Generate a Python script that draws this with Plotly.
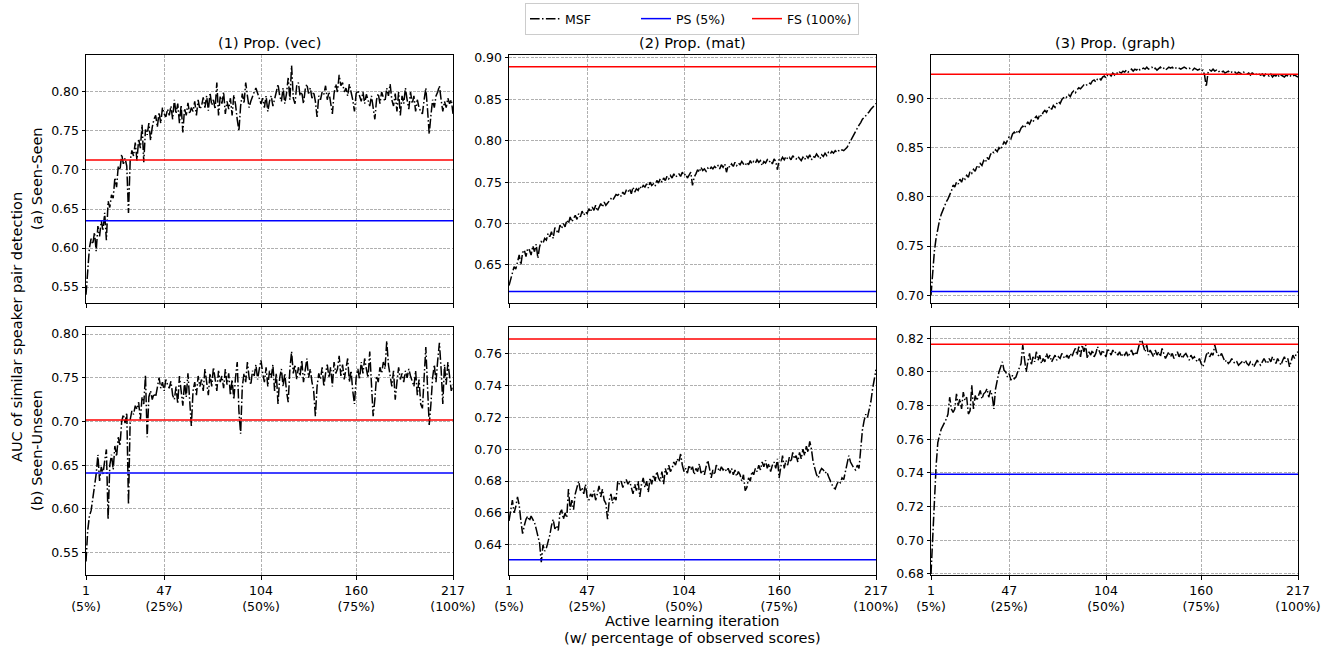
import plotly.graph_objects as go

# Active learning iterations (1 .. 217)
tick_vals = [1, 47, 104, 160, 217]
tick_text = ["1<br>(5%)", "47<br>(25%)", "104<br>(50%)", "160<br>(75%)", "217<br>(100%)"]

col_titles = ["(1) Prop. (vec)", "(2) Prop. (mat)", "(3) Prop. (graph)"]
row_titles = ["(a) Seen-Seen", "(b) Seen-Unseen"]

# MSF curves, one value per iteration
msf_vec_ss = [
    0.540, 0.565, 0.600, 0.612, 0.605, 0.620, 0.596, 0.628, 0.615, 0.635,
    0.622, 0.645, 0.610, 0.660, 0.652, 0.668, 0.664, 0.690, 0.678, 0.705,
    0.700, 0.720, 0.708, 0.715, 0.705, 0.645, 0.712, 0.725, 0.718, 0.735,
    0.712, 0.740, 0.728, 0.758, 0.710, 0.752, 0.745, 0.760, 0.738, 0.755,
    0.765, 0.770, 0.755, 0.774, 0.760, 0.780, 0.772, 0.768, 0.778, 0.770,
    0.782, 0.765, 0.790, 0.772, 0.785, 0.760, 0.783, 0.748, 0.779, 0.770,
    0.786, 0.772, 0.780, 0.775, 0.788, 0.770, 0.790, 0.778, 0.782, 0.793,
    0.780, 0.795, 0.776, 0.799, 0.783, 0.790, 0.778, 0.812, 0.770, 0.795,
    0.785, 0.800, 0.772, 0.788, 0.778, 0.792, 0.770, 0.796, 0.784, 0.765,
    0.750, 0.782, 0.798, 0.785, 0.812, 0.795, 0.780, 0.788, 0.795, 0.800,
    0.805, 0.798, 0.790, 0.785, 0.792, 0.780, 0.795, 0.775, 0.788, 0.795,
    0.782, 0.790, 0.800, 0.810, 0.795, 0.788, 0.805, 0.785, 0.798, 0.818,
    0.790, 0.834, 0.792, 0.785, 0.808, 0.812, 0.795, 0.800, 0.785, 0.803,
    0.810, 0.798, 0.805, 0.792, 0.800, 0.788, 0.768, 0.795, 0.790, 0.800,
    0.797, 0.808, 0.790, 0.800, 0.785, 0.772, 0.798, 0.810, 0.800, 0.822,
    0.808, 0.812, 0.800, 0.805, 0.795, 0.810, 0.800, 0.790, 0.775, 0.798,
    0.802, 0.795, 0.788, 0.800, 0.785, 0.797, 0.790, 0.782, 0.795, 0.780,
    0.765, 0.790, 0.798, 0.785, 0.800, 0.793, 0.788, 0.805, 0.795, 0.810,
    0.790, 0.782, 0.798, 0.775, 0.800, 0.770, 0.795, 0.785, 0.805, 0.790,
    0.778, 0.800, 0.785, 0.795, 0.775, 0.790, 0.780, 0.775, 0.772, 0.790,
    0.805, 0.778, 0.746, 0.770, 0.790, 0.780, 0.795, 0.800, 0.808, 0.790,
    0.775, 0.788, 0.780, 0.792, 0.785, 0.790, 0.772,
]

msf_mat_ss = [
    0.625, 0.632, 0.640, 0.648, 0.645, 0.655, 0.662, 0.650, 0.665, 0.668,
    0.660, 0.670, 0.668, 0.662, 0.673, 0.666, 0.675, 0.658, 0.672, 0.678,
    0.676, 0.682, 0.680, 0.688, 0.684, 0.690, 0.682, 0.695, 0.692, 0.688,
    0.698, 0.694, 0.700, 0.696, 0.704, 0.700, 0.708, 0.702, 0.706, 0.710,
    0.705, 0.712, 0.708, 0.715, 0.710, 0.714, 0.712, 0.718, 0.714, 0.720,
    0.716, 0.722, 0.715, 0.719, 0.724, 0.720, 0.726, 0.722, 0.725, 0.728,
    0.730, 0.728, 0.732, 0.735, 0.734, 0.736, 0.733, 0.738, 0.735, 0.740,
    0.738, 0.742, 0.736, 0.744, 0.738, 0.742, 0.740, 0.745, 0.742, 0.746,
    0.744, 0.748, 0.743, 0.750, 0.746, 0.748, 0.745, 0.752, 0.749, 0.754,
    0.750, 0.755, 0.752, 0.757, 0.754, 0.758, 0.755, 0.760, 0.756, 0.758,
    0.760, 0.757, 0.762, 0.758, 0.760, 0.755, 0.758, 0.762, 0.746, 0.756,
    0.760, 0.765, 0.762, 0.768, 0.764, 0.766, 0.763, 0.767, 0.765, 0.768,
    0.766, 0.769, 0.767, 0.770, 0.766, 0.771, 0.768, 0.772, 0.762, 0.770,
    0.768, 0.772, 0.769, 0.774, 0.770, 0.773, 0.771, 0.775, 0.772, 0.770,
    0.774, 0.771, 0.776, 0.772, 0.775, 0.773, 0.777, 0.774, 0.776, 0.770,
    0.775, 0.773, 0.777, 0.774, 0.776, 0.772, 0.778, 0.775, 0.765, 0.778,
    0.776, 0.780, 0.777, 0.781, 0.778, 0.780, 0.777, 0.782, 0.779, 0.778,
    0.781, 0.778, 0.776, 0.780, 0.777, 0.782, 0.779, 0.783, 0.777, 0.781,
    0.780, 0.784, 0.781, 0.778, 0.783, 0.781, 0.785, 0.782, 0.786, 0.784,
    0.787, 0.785, 0.788, 0.786, 0.788, 0.787, 0.789, 0.788, 0.790, 0.792,
    0.796, 0.800, 0.804, 0.808, 0.812, 0.816, 0.819, 0.822, 0.826, 0.828,
    0.830, 0.833, 0.835, 0.838, 0.840, 0.842, 0.845,
]

msf_graph_ss = [
    0.700, 0.725, 0.745, 0.758, 0.768, 0.776, 0.782, 0.787, 0.791, 0.795,
    0.798, 0.802, 0.806, 0.812, 0.810, 0.815, 0.813, 0.818, 0.815, 0.820,
    0.818, 0.822, 0.820, 0.826, 0.824, 0.828, 0.826, 0.831, 0.829, 0.834,
    0.832, 0.837, 0.835, 0.840, 0.838, 0.843, 0.846, 0.845, 0.848, 0.846,
    0.850, 0.848, 0.853, 0.856, 0.854, 0.858, 0.861, 0.859, 0.864, 0.866,
    0.864, 0.868, 0.866, 0.870, 0.872, 0.870, 0.874, 0.876, 0.874, 0.878,
    0.876, 0.880, 0.882, 0.879, 0.884, 0.882, 0.886, 0.888, 0.886, 0.890,
    0.892, 0.889, 0.893, 0.891, 0.895, 0.897, 0.895, 0.899, 0.901, 0.900,
    0.902, 0.904, 0.902, 0.906, 0.908, 0.906, 0.909, 0.911, 0.910, 0.912,
    0.914, 0.913, 0.915, 0.916, 0.915, 0.918, 0.919, 0.917, 0.920, 0.921,
    0.919, 0.922, 0.923, 0.921, 0.924, 0.925, 0.923, 0.926, 0.924, 0.927,
    0.925, 0.927, 0.926, 0.928, 0.927, 0.929, 0.927, 0.929, 0.930, 0.928,
    0.930, 0.929, 0.931, 0.929, 0.930, 0.931, 0.930, 0.932, 0.930, 0.931,
    0.932, 0.930, 0.931, 0.929, 0.931, 0.932, 0.930, 0.931, 0.929, 0.931,
    0.932, 0.931, 0.932, 0.930, 0.931, 0.932, 0.931, 0.930, 0.931, 0.932,
    0.931, 0.930, 0.931, 0.930, 0.929, 0.931, 0.930, 0.929, 0.930, 0.928,
    0.929, 0.924, 0.912, 0.926, 0.929, 0.928, 0.930, 0.928, 0.929, 0.927,
    0.928, 0.927, 0.928, 0.926, 0.927, 0.928, 0.926, 0.927, 0.926, 0.927,
    0.925, 0.927, 0.926, 0.925, 0.927, 0.926, 0.925, 0.926, 0.924, 0.926,
    0.925, 0.924, 0.926, 0.925, 0.924, 0.925, 0.923, 0.925, 0.924, 0.923,
    0.925, 0.922, 0.924, 0.923, 0.925, 0.922, 0.924, 0.923, 0.922, 0.924,
    0.923, 0.922, 0.924, 0.923, 0.924, 0.923, 0.922,
]

msf_vec_su = [
    0.540, 0.575, 0.592, 0.598, 0.612, 0.625, 0.640, 0.662, 0.632, 0.648,
    0.640, 0.655, 0.668, 0.588, 0.650, 0.662, 0.645, 0.672, 0.660, 0.682,
    0.672, 0.700, 0.708, 0.698, 0.710, 0.605, 0.702, 0.712, 0.708, 0.718,
    0.714, 0.722, 0.702, 0.728, 0.720, 0.753, 0.682, 0.728, 0.735, 0.725,
    0.732, 0.728, 0.740, 0.750, 0.738, 0.745, 0.735, 0.748, 0.742, 0.738,
    0.746, 0.730, 0.725, 0.740, 0.720, 0.752, 0.735, 0.718, 0.745, 0.728,
    0.755, 0.720, 0.695, 0.735, 0.745, 0.730, 0.752, 0.740, 0.748, 0.735,
    0.760, 0.745, 0.730, 0.755, 0.740, 0.762, 0.748, 0.735, 0.758, 0.745,
    0.752, 0.738, 0.760, 0.742, 0.755, 0.730, 0.748, 0.725, 0.750, 0.768,
    0.712, 0.686, 0.740, 0.755, 0.745, 0.768, 0.750, 0.742, 0.758, 0.752,
    0.765, 0.748, 0.760, 0.770, 0.755, 0.745, 0.762, 0.740, 0.758, 0.750,
    0.765, 0.735, 0.755, 0.720, 0.750, 0.760, 0.740, 0.755, 0.735, 0.722,
    0.760, 0.780, 0.755, 0.765, 0.748, 0.762, 0.752, 0.770, 0.745, 0.758,
    0.772, 0.750, 0.760, 0.745, 0.735, 0.706, 0.740, 0.755, 0.748, 0.762,
    0.740, 0.755, 0.765, 0.750, 0.762, 0.740, 0.768, 0.755, 0.760, 0.775,
    0.752, 0.765, 0.748, 0.760, 0.772, 0.745, 0.758, 0.735, 0.720, 0.750,
    0.760, 0.748, 0.768, 0.755, 0.772, 0.760, 0.750, 0.780, 0.735, 0.706,
    0.725, 0.752, 0.745, 0.762, 0.755, 0.768, 0.760, 0.792, 0.765, 0.750,
    0.740, 0.758, 0.725, 0.745, 0.762, 0.748, 0.755, 0.745, 0.758, 0.750,
    0.760, 0.752, 0.745, 0.740, 0.758, 0.730, 0.748, 0.720, 0.715, 0.760,
    0.785, 0.740, 0.696, 0.720, 0.750, 0.765, 0.745, 0.770, 0.790, 0.760,
    0.720, 0.765, 0.742, 0.768, 0.750, 0.735, 0.742,
]

msf_mat_su = [
    0.655, 0.662, 0.668, 0.660, 0.664, 0.670, 0.665, 0.655, 0.647, 0.652,
    0.656, 0.658, 0.655, 0.658, 0.656, 0.654, 0.650, 0.645, 0.641, 0.629,
    0.640, 0.636, 0.638, 0.642, 0.646, 0.652, 0.656, 0.650, 0.652, 0.649,
    0.660, 0.662, 0.656, 0.660, 0.657, 0.675, 0.662, 0.668, 0.662, 0.672,
    0.676, 0.680, 0.674, 0.676, 0.672, 0.678, 0.670, 0.668, 0.672, 0.670,
    0.674, 0.668, 0.672, 0.677, 0.670, 0.675, 0.668, 0.666, 0.656, 0.668,
    0.672, 0.666, 0.670, 0.668, 0.680, 0.678, 0.680, 0.676, 0.679, 0.681,
    0.678, 0.680, 0.676, 0.672, 0.678, 0.674, 0.680, 0.670, 0.678, 0.682,
    0.676, 0.680, 0.673, 0.682, 0.678, 0.684, 0.680, 0.686, 0.682, 0.680,
    0.686, 0.678, 0.688, 0.684, 0.690, 0.686, 0.688, 0.692, 0.690, 0.694,
    0.692, 0.697, 0.690, 0.686, 0.688, 0.685, 0.690, 0.687, 0.689, 0.684,
    0.688, 0.686, 0.691, 0.685, 0.687, 0.684, 0.689, 0.693, 0.688, 0.682,
    0.687, 0.684, 0.690, 0.688, 0.686, 0.689, 0.687, 0.688, 0.686, 0.688,
    0.685, 0.688, 0.684, 0.687, 0.683, 0.686, 0.684, 0.680, 0.684, 0.674,
    0.676, 0.682, 0.680, 0.686, 0.684, 0.688, 0.686, 0.690, 0.687, 0.692,
    0.689, 0.693, 0.688, 0.691, 0.686, 0.690, 0.692, 0.688, 0.694, 0.682,
    0.690, 0.696, 0.688, 0.693, 0.690, 0.695, 0.692, 0.698, 0.694, 0.696,
    0.692, 0.698, 0.694, 0.700, 0.696, 0.702, 0.698, 0.705, 0.700, 0.692,
    0.688, 0.684, 0.682, 0.686, 0.688, 0.687, 0.685, 0.686, 0.683, 0.680,
    0.678, 0.676, 0.675, 0.678, 0.680, 0.679, 0.682, 0.681, 0.686, 0.690,
    0.696, 0.692, 0.690, 0.688, 0.687, 0.690, 0.688, 0.700, 0.712, 0.718,
    0.722, 0.720, 0.725, 0.730, 0.738, 0.745, 0.750,
]

msf_graph_su = [
    0.680, 0.705, 0.728, 0.744, 0.758, 0.762, 0.766, 0.768, 0.770, 0.772,
    0.775, 0.785, 0.778, 0.776, 0.778, 0.787, 0.780, 0.784, 0.778, 0.788,
    0.783, 0.785, 0.775, 0.777, 0.792, 0.778, 0.786, 0.783, 0.786, 0.789,
    0.784, 0.787, 0.788, 0.790, 0.785, 0.789, 0.786, 0.778, 0.790, 0.796,
    0.800, 0.803, 0.806, 0.801, 0.800, 0.797, 0.799, 0.795, 0.798, 0.796,
    0.797, 0.800, 0.803, 0.805, 0.816, 0.809, 0.800, 0.806, 0.811, 0.804,
    0.809, 0.806, 0.812, 0.807, 0.810, 0.805, 0.808, 0.806, 0.811, 0.808,
    0.810, 0.806, 0.808, 0.810, 0.807, 0.809, 0.808, 0.811, 0.809, 0.808,
    0.810, 0.808, 0.811, 0.809, 0.812, 0.814, 0.810, 0.815, 0.809, 0.816,
    0.812, 0.816, 0.808, 0.812, 0.810, 0.813, 0.809, 0.811, 0.815, 0.812,
    0.810, 0.813, 0.811, 0.809, 0.814, 0.812, 0.810, 0.813, 0.811, 0.812,
    0.810, 0.812, 0.809, 0.811, 0.810, 0.812, 0.809, 0.811, 0.813, 0.810,
    0.812, 0.810, 0.814, 0.818, 0.819, 0.815, 0.812, 0.816, 0.810, 0.813,
    0.811, 0.809, 0.813, 0.810, 0.812, 0.809, 0.814, 0.811, 0.808, 0.810,
    0.812, 0.809, 0.811, 0.808, 0.810, 0.812, 0.809, 0.811, 0.808, 0.810,
    0.811, 0.809, 0.807, 0.810, 0.808, 0.809, 0.807, 0.806, 0.808, 0.805,
    0.803, 0.806, 0.810, 0.812, 0.809, 0.811, 0.810, 0.816, 0.812, 0.810,
    0.809, 0.811, 0.808, 0.806, 0.807, 0.805, 0.806, 0.808, 0.806, 0.805,
    0.806, 0.804, 0.805, 0.806, 0.805, 0.807, 0.805, 0.804, 0.806, 0.805,
    0.803, 0.805, 0.807, 0.805, 0.804, 0.806, 0.808, 0.806, 0.805, 0.808,
    0.806, 0.809, 0.807, 0.805, 0.808, 0.806, 0.804, 0.807, 0.809, 0.806,
    0.808, 0.803, 0.807, 0.810, 0.808, 0.811, 0.812,
]

# Baselines: passive sampling (5%) and full supervision (100%)
ps_values = [0.635, 0.6178, 0.7037, 0.641, 0.6306, 0.7392]
fs_values = [0.7128, 0.8895, 0.9248, 0.7017, 0.7692, 0.8164]

msf_series = [msf_vec_ss, msf_mat_ss, msf_graph_ss, msf_vec_su, msf_mat_su, msf_graph_su]

# Axis ranges and tick spacing per panel
y_ranges = [(0.5295, 0.8474), (0.604, 0.9036), (0.692, 0.9444),
            (0.5245, 0.808), (0.621, 0.7768), (0.6794, 0.8267)]
y_tick0 = [0.55, 0.65, 0.70, 0.55, 0.64, 0.68]
y_dtick = [0.05, 0.05, 0.05, 0.05, 0.02, 0.02]

W, H = 1334, 652
col_px = [(86, 453), (509, 876), (931, 1298)]
row_px = [(55, 303), (327, 575)]

FONT = "DejaVu Sans"
DASHDOT = "9.6px,2.4px,1.5px,2.4px"

fig = go.Figure()
layout = {}

for k in range(6):
    r, c = divmod(k, 3)
    ax = "" if k == 0 else str(k + 1)
    xa, ya = "x" + ax, "y" + ax
    y = msf_series[k]
    iters = list(range(1, len(y) + 1))
    show = k == 0
    fig.add_trace(go.Scatter(
        x=iters, y=y, mode="lines", name="MSF", legendgroup="msf", showlegend=show,
        line=dict(color="black", width=1.5, dash=DASHDOT), xaxis=xa, yaxis=ya))
    fig.add_trace(go.Scatter(
        x=[1, 217], y=[ps_values[k]] * 2, mode="lines", name="PS (5%)",
        legendgroup="ps", showlegend=show,
        line=dict(color="#0000ff", width=1.5), xaxis=xa, yaxis=ya))
    fig.add_trace(go.Scatter(
        x=[1, 217], y=[fs_values[k]] * 2, mode="lines", name="FS (100%)",
        legendgroup="fs", showlegend=show,
        line=dict(color="#ff0000", width=1.5), xaxis=xa, yaxis=ya))

    x0, x1 = col_px[c]
    y0, y1 = row_px[r]
    common = dict(showline=True, mirror=True, linecolor="black", linewidth=1,
                  ticks="outside", ticklen=3.5, tickwidth=0.8, tickcolor="black",
                  showgrid=True, gridcolor="#b0b0b0", gridwidth=0.8,
                  griddash="3px,1.3px", automargin=False,
                  zeroline=False, tickfont=dict(family=FONT, size=12.5, color="black"))
    layout["xaxis" + ax] = dict(
        common, domain=[x0 / W, x1 / W], anchor=ya, range=[1, 217],
        tickmode="array", tickvals=tick_vals,
        ticktext=tick_text if r == 1 else [""] * len(tick_vals))
    layout["yaxis" + ax] = dict(
        common, domain=[1 - y1 / H, 1 - y0 / H], anchor=xa, range=list(y_ranges[k]),
        tick0=y_tick0[k], dtick=y_dtick[k], tickformat=".2f")

annotations = []
for c, t in enumerate(col_titles):
    cx = (col_px[c][0] + col_px[c][1]) / 2
    annotations.append(dict(text=t, x=cx / W, y=1 - 43 / H, xref="paper", yref="paper",
                            xanchor="center", yanchor="middle", showarrow=False,
                            font=dict(family=FONT, size=14.5, color="black")))
for r, t in enumerate(row_titles):
    cy = (row_px[r][0] + row_px[r][1]) / 2
    annotations.append(dict(text=t, x=37 / W, y=1 - cy / H, xref="paper", yref="paper",
                            xanchor="center", yanchor="middle", showarrow=False, textangle=-90,
                            font=dict(family=FONT, size=14.5, color="black")))
annotations.append(dict(text="AUC of similar speaker pair detection", x=17 / W, y=1 - 327 / H,
                        xref="paper", yref="paper", xanchor="center", yanchor="middle",
                        showarrow=False, textangle=-90,
                        font=dict(family=FONT, size=14.5, color="black")))
annotations.append(dict(text="Active learning iteration", x=692 / W, y=1 - 621 / H,
                        xref="paper", yref="paper", xanchor="center", yanchor="middle",
                        showarrow=False, font=dict(family=FONT, size=14.5, color="black")))
annotations.append(dict(text="(w/ percentage of observed scores)", x=692 / W, y=1 - 638 / H,
                        xref="paper", yref="paper", xanchor="center", yanchor="middle",
                        showarrow=False, font=dict(family=FONT, size=14.5, color="black")))

fig.update_layout(
    **layout,
    width=W, height=H,
    margin=dict(l=0, r=0, t=0, b=0, autoexpand=False),
    paper_bgcolor="white", plot_bgcolor="white",
    font=dict(family=FONT, size=12.5, color="black"),
    annotations=annotations,
    legend=dict(orientation="h", x=692 / W, y=1 - 3 / H, xanchor="center", yanchor="top",
                bordercolor="#cccccc", borderwidth=1, bgcolor="white",
                font=dict(family=FONT, size=12.5, color="black"),
                entrywidth=66, entrywidthmode="pixels", tracegroupgap=0),
)

fig.write_html("out.html")
